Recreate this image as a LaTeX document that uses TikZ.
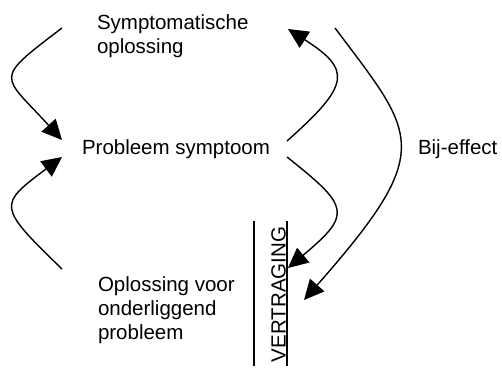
\documentclass[tikz,border=0pt]{standalone}
\usepackage{fontspec}
\setmainfont{Liberation Sans}
\usetikzlibrary{arrows.meta}
\tikzset{
  lbl/.style={inner sep=0pt, outer sep=0pt, align=left, font=\fontsize{20.5}{24}\selectfont},
  conn/.style={line width=1.4pt, -{Triangle[length=20pt,width=19pt]}},
  bar/.style={line width=1.4pt}
}
\begin{document}
\begin{tikzpicture}[x=1pt,y=-1pt]
\useasboundingbox (0,0) rectangle (502,367);
% text nodes
\node[lbl, anchor=base west] (sym) at (97,29.5) {Symptomatische};
\node[lbl, anchor=base west] (sym2) at (97,53) {oplossing};
\node[lbl, anchor=base west] (prob) at (82,154.5) {Probleem symptoom};
\node[lbl, anchor=base west] (bij) at (418,154.5) {Bij-effect};
\node[lbl, anchor=base west] (opl) at (98,291) {Oplossing voor};
\node[lbl, anchor=base west] (opl2) at (98,315) {onderliggend};
\node[lbl, anchor=base west] (opl3) at (98,339) {probleem};
\node[lbl, anchor=base west, rotate=90] (vert) at (285.5,362) {VERTRAGING};
% delay bars
\coordinate (b1t) at (254,221); \coordinate (b1b) at (254,366);
\coordinate (b2t) at (287,221); \coordinate (b2b) at (287,366);
\draw[bar] (b1t) -- (b1b);
\draw[bar] (b2t) -- (b2b);
% connector end points
\coordinate (a1s) at (62,28);   \coordinate (a1e) at (62,140);
\coordinate (a2s) at (62,269);  \coordinate (a2e) at (62,157);
\coordinate (a3s) at (287,141); \coordinate (a3e) at (288,29);
\coordinate (a4s) at (287,157); \coordinate (a4e) at (288,268);
\coordinate (a5s) at (335,28);  \coordinate (a5e) at (304,300);
% connectors
\draw[conn] (a1s) .. controls (-8,81) and (2,74) .. (a1e);
\draw[conn] (a2s) .. controls (-3,206) and (-2,205) .. (a2e);
\draw[conn] (a3s) .. controls (350,85) and (352,70) .. (a3e);
\draw[conn] (a4s) .. controls (350,207) and (352,214) .. (a4e);
\draw[conn] (a5s) .. controls (416,136) and (437,149) .. (a5e);
\end{tikzpicture}
\end{document}
